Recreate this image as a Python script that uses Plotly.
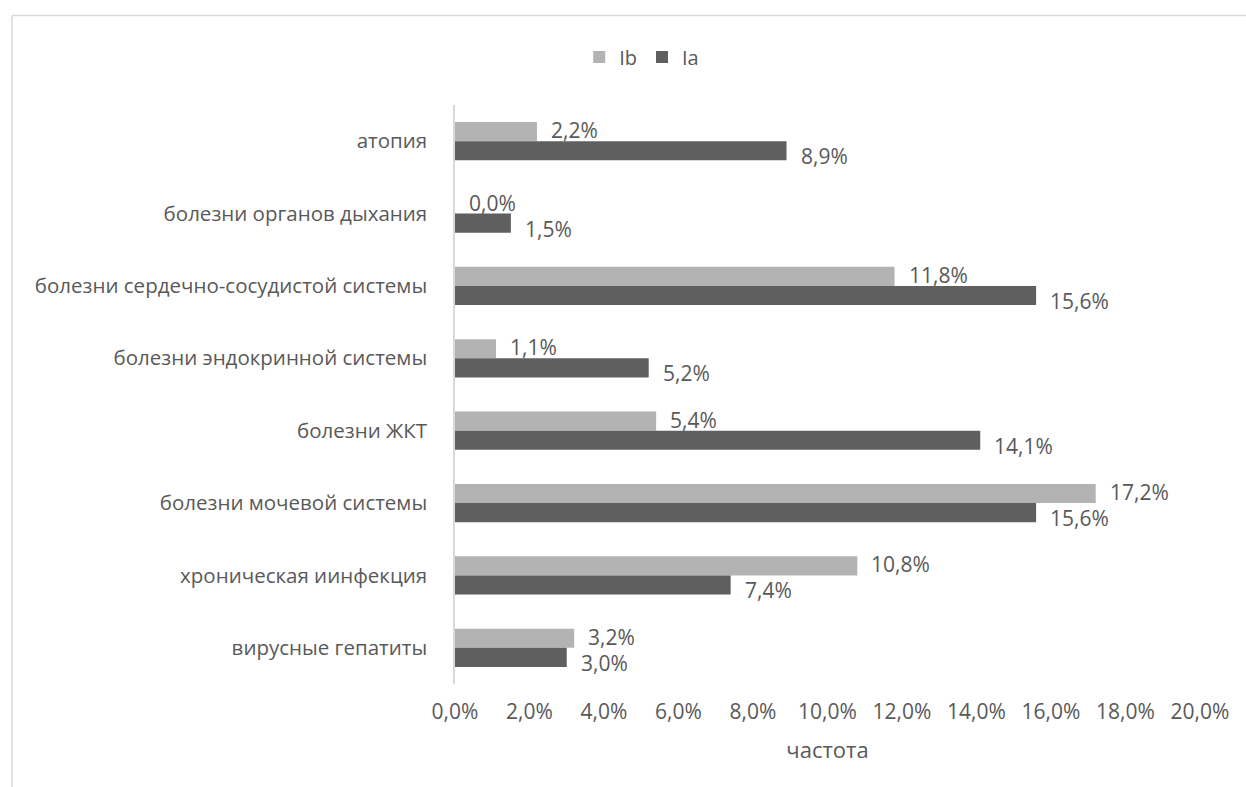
import plotly.graph_objects as go

# Comorbidity frequency by group
categories = [
    "атопия",
    "болезни органов дыхания",
    "болезни сердечно-сосудистой системы",
    "болезни эндокринной системы",
    "болезни ЖКТ",
    "болезни мочевой системы",
    "хроническая иинфекция",
    "вирусные гепатиты",
]
ib_values = [0.022, 0.000, 0.118, 0.011, 0.054, 0.172, 0.108, 0.032]
ia_values = [0.089, 0.015, 0.156, 0.052, 0.141, 0.156, 0.074, 0.030]
tick_values = [0.00, 0.02, 0.04, 0.06, 0.08, 0.10, 0.12, 0.14, 0.16, 0.18, 0.20]

W, H = 1246, 787
PLOT_L, PLOT_R = 455, 1200
PLOT_T, PLOT_B = 105, 684

LIGHT = "#b3b3b3"
DARK = "#5f5f5f"
TEXT = "#595959"
FONT = "Open Sans"


def pct(v):
    return f"{v * 100:.1f}%".replace(".", ",")


fig = go.Figure()
fig.add_trace(go.Bar(name="Ib", y=categories, x=ib_values, orientation="h",
                     marker=dict(color=LIGHT, line=dict(width=0)), hoverinfo="x+y"))
fig.add_trace(go.Bar(name="Ia", y=categories, x=ia_values, orientation="h",
                     marker=dict(color=DARK, line=dict(width=0)), hoverinfo="x+y"))

annotations = []
for cat, v in zip(categories, ib_values):
    annotations.append(dict(x=v, y=cat, xref="x", yref="y", text=pct(v),
                            showarrow=False, xanchor="left", yanchor="middle",
                            xshift=12, yshift=11,
                            font=dict(family=FONT, size=21, color=TEXT)))
for cat, v in zip(categories, ia_values):
    annotations.append(dict(x=v, y=cat, xref="x", yref="y", text=pct(v),
                            showarrow=False, xanchor="left", yanchor="middle",
                            xshift=12, yshift=-15,
                            font=dict(family=FONT, size=21, color=TEXT)))

# outer chart frame (extends past the right and bottom edges)
pw = PLOT_R - PLOT_L
ph = PLOT_B - PLOT_T
fx0 = (12 - PLOT_L) / pw
fx1 = (W + 20 - PLOT_L) / pw
fy_top = (PLOT_B - 15.5) / ph
fy_bot = (PLOT_B - (H + 20)) / ph

shapes = [
    dict(type="line", xref="paper", yref="paper", x0=fx0, x1=fx1, y0=fy_top, y1=fy_top,
         line=dict(color="#d9d9d9", width=1.5)),
    dict(type="line", xref="paper", yref="paper", x0=fx0, x1=fx0, y0=fy_top, y1=fy_bot,
         line=dict(color="#d9d9d9", width=1.5)),
]

fig.update_layout(
    width=W, height=H,
    margin=dict(l=PLOT_L, r=W - PLOT_R, t=PLOT_T, b=H - PLOT_B, autoexpand=False),
    paper_bgcolor="white", plot_bgcolor="white",
    separators=", ",
    barmode="group", bargap=0.47, bargroupgap=0,
    font=dict(family=FONT, size=20, color=TEXT),
    showlegend=True,
    legend=dict(orientation="h", x=0.515, xref="container",
                xanchor="center", y=1 - 57 / H, yref="container", yanchor="middle",
                font=dict(family=FONT, size=20, color=TEXT),
                itemwidth=30, traceorder="normal"),
    annotations=annotations,
    shapes=shapes,
    xaxis=dict(range=[0, 0.20], tickvals=tick_values, tickformat=".1%",
               showgrid=False, zeroline=False, showline=False, ticks="",
               tickfont=dict(family=FONT, size=21, color=TEXT),
               ticklabelstandoff=13,
               title=dict(text="частота", font=dict(family=FONT, size=22, color=TEXT),
                          standoff=18)),
    yaxis=dict(autorange="reversed", showgrid=False, zeroline=False,
               showline=True, linecolor="#d9d9d9", linewidth=1.5, ticks="",
               tickfont=dict(family=FONT, size=20.5, color=TEXT),
               ticklabelstandoff=22),
)

fig.write_html("out.html")
